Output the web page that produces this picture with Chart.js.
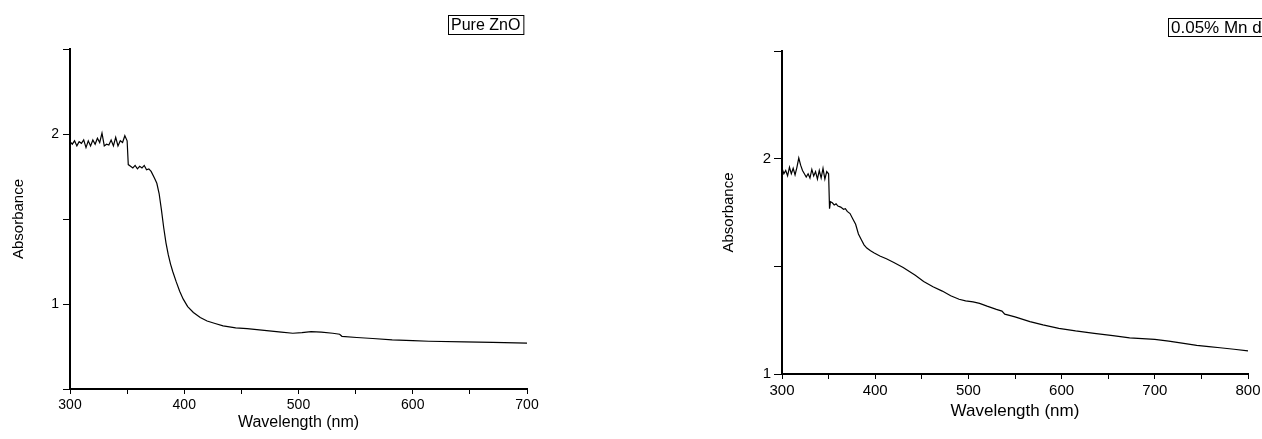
<!DOCTYPE html>
<html>
<head>
<meta charset="utf-8">
<script src="https://cdn.jsdelivr.net/npm/chart.js@4"></script>
<style>
  html, body { margin: 0; padding: 0; background: #fff; overflow: hidden; }
  canvas { position: absolute; top: 0; }
  #c1 { left: 0; }
  #c2 { left: 700px; }
</style>
</head>
<body>
<canvas id="c1" width="560" height="439"></canvas>
<canvas id="c2" width="562" height="439"></canvas>
<script>
// Pure ZnO
let znoLabel = 'Pure ZnO';
let znoWave = [300, 302, 304, 306, 308, 310, 312, 314, 316, 318, 320, 322, 324, 326, 328, 330, 332, 334, 336, 338, 340, 342, 344, 346, 348, 350,
    351, 353, 355, 357, 359, 361, 363, 365, 367, 369, 371, 374, 376, 378, 380, 382, 384, 386, 388, 390, 393, 396, 399,
    403, 408, 414, 420, 427, 434, 445, 455, 470, 485, 495, 503, 511, 520, 530, 536, 538, 551, 565, 582, 600, 614, 645, 670, 700];
let znoAbs = [1.955, 1.94, 1.96, 1.93, 1.955, 1.945, 1.965, 1.92, 1.96, 1.93, 1.965, 1.94, 1.975, 1.95, 2.005, 1.93, 1.94, 1.935, 1.965, 1.93, 1.98, 1.93, 1.96, 1.95, 1.99, 1.96,
    1.82, 1.81, 1.80, 1.815, 1.795, 1.81, 1.80, 1.815, 1.79, 1.795, 1.78, 1.74, 1.71, 1.65, 1.555, 1.45, 1.36, 1.29, 1.235, 1.19, 1.13, 1.075, 1.03,
    0.985, 0.95, 0.92, 0.90, 0.885, 0.871, 0.86, 0.855, 0.845, 0.835, 0.828, 0.832, 0.838, 0.835, 0.828, 0.822, 0.81, 0.803, 0.797, 0.789, 0.784, 0.781, 0.777, 0.774, 0.77];

// 0.05% Mn doped ZnO (label cut off at the picture edge)
let mnLabel = '0.05% Mn d';
let mnWave = [300, 302, 304, 306, 308, 310, 312, 314, 316, 318, 320, 322, 324, 326, 328, 330, 332, 334, 336, 338, 340, 342, 344, 346, 348, 350,
    351, 352, 354, 356, 358, 360, 363, 366, 368, 370, 373, 376, 379, 382, 385, 388, 391, 395, 399, 405, 412, 420, 430, 443, 452, 462, 472, 481,
    490, 497, 505, 512, 520, 530, 536, 539, 550, 566, 580, 597, 615, 635, 655, 673, 700, 715, 731, 745, 758, 770, 785, 800];
let mnAbs = [1.956, 1.93, 1.945, 1.92, 1.96, 1.93, 1.955, 1.925, 1.96, 2.003, 1.97, 1.945, 1.93, 1.915, 1.93, 1.91, 1.95, 1.92, 1.94, 1.905, 1.945, 1.91, 1.955, 1.905, 1.94, 1.93,
    1.768, 1.80, 1.795, 1.785, 1.79, 1.78, 1.775, 1.765, 1.768, 1.755, 1.745, 1.72, 1.695, 1.65, 1.625, 1.60, 1.585, 1.572, 1.562, 1.548, 1.535, 1.518, 1.495, 1.459, 1.43, 1.405, 1.385, 1.363,
    1.347, 1.34, 1.335, 1.328, 1.315, 1.30, 1.292, 1.278, 1.265, 1.243, 1.228, 1.212, 1.20, 1.189, 1.178, 1.168, 1.161, 1.153, 1.142, 1.133, 1.127, 1.122, 1.115, 1.107];

let xTicks1 = [300, 700];
let yTicks1 = [0.5, 2.5];
let xTicks2 = [300, 800];
let yTicks2 = [1, 2.5];

const FONT = '"Liberation Sans", Arial, sans-serif';

// boxed label in the top right, like the Origin plot
const legendBox = {
    id: 'legendBox',
    afterDraw(chart, args, opts) {
        let ctx = chart.ctx;
        let text = chart.data.datasets[0].label;
        ctx.save();
        ctx.font = opts.size + 'px ' + FONT;
        let w = opts.w || (ctx.measureText(text).width + 6);
        ctx.strokeStyle = '#000';
        ctx.lineWidth = 1;
        ctx.strokeRect(opts.x + 0.5, opts.y + 0.5, w, opts.h);
        ctx.fillStyle = '#000';
        ctx.textBaseline = 'middle';
        ctx.fillText(text, opts.x + 3, opts.y + opts.h / 2 + 1);
        ctx.restore();
    }
};

function makeChart(id, label, waves, values, xr, yr, cfg) {
    let pts = waves.map((w, i) => ({ x: w, y: values[i] }));
    return new Chart(document.getElementById(id), {
        type: 'line',
        data: {
            datasets: [{
                label: label,
                data: pts,
                borderColor: '#000',
                borderWidth: 1.2,
                pointRadius: 0,
                tension: 0,
                fill: false
            }]
        },
        options: {
            responsive: false,
            animation: false,
            layout: { padding: cfg.padding },
            plugins: {
                legend: { display: false },
                tooltip: { enabled: false },
                legendBox: cfg.legend
            },
            scales: {
                x: {
                    type: 'linear',
                    min: xr[0], max: xr[1],
                    grid: { drawOnChartArea: false, color: '#000', tickLength: 5 },
                    border: { color: '#000', width: 2 },
                    ticks: {
                        stepSize: 50, autoSkip: false, maxRotation: 0, color: '#000', padding: 3,
                        font: { family: FONT, size: cfg.tickSize },
                        callback: v => (v % 100 === 0 ? String(v) : '')
                    },
                    title: {
                        display: true, text: 'Wavelength (nm)', color: '#000',
                        font: { family: FONT, size: cfg.xTitleSize },
                        padding: { top: 0, bottom: cfg.xTitlePad }
                    },
                    afterFit: s => { s.height = cfg.xHeight; s.paddingLeft = 0; s.paddingRight = 0; }
                },
                y: {
                    type: 'linear',
                    min: yr[0], max: yr[1],
                    grid: { drawOnChartArea: false, color: '#000', tickLength: cfg.yTick },
                    border: { color: '#000', width: 2 },
                    ticks: {
                        stepSize: 0.5, autoSkip: false, color: '#000', padding: cfg.yPad,
                        font: { family: FONT, size: cfg.tickSize },
                        callback: v => (Number.isInteger(v) ? String(v) : '')
                    },
                    title: {
                        display: true, text: 'Absorbance', color: '#000',
                        font: { family: FONT, size: 15 },
                        padding: { top: cfg.yTitlePad, bottom: 0 }
                    },
                    afterFit: s => { s.width = cfg.yWidth; s.paddingTop = 0; s.paddingBottom = 0; }
                }
            }
        },
        plugins: [legendBox]
    });
}

makeChart('c1', znoLabel, znoWave, znoAbs, xTicks1, yTicks1, {
    padding: { top: 49, right: 33, bottom: 0, left: 0 },
    xHeight: 50, yWidth: 70, yTick: 7, yPad: 4,
    tickSize: 14, xTitleSize: 16, xTitlePad: 7, yTitlePad: 10,
    legend: { x: 448, y: 15, h: 19, size: 16 }
});

makeChart('c2', mnLabel, mnWave, mnAbs, xTicks2, yTicks2, {
    padding: { top: 51, right: 14, bottom: 0, left: 0 },
    xHeight: 65, yWidth: 82, yTick: 8, yPad: 3,
    tickSize: 15, xTitleSize: 17, xTitlePad: 17, yTitlePad: 20,
    legend: { x: 468, y: 18, h: 18, size: 17, w: 200 }
});
</script>
</body>
</html>
